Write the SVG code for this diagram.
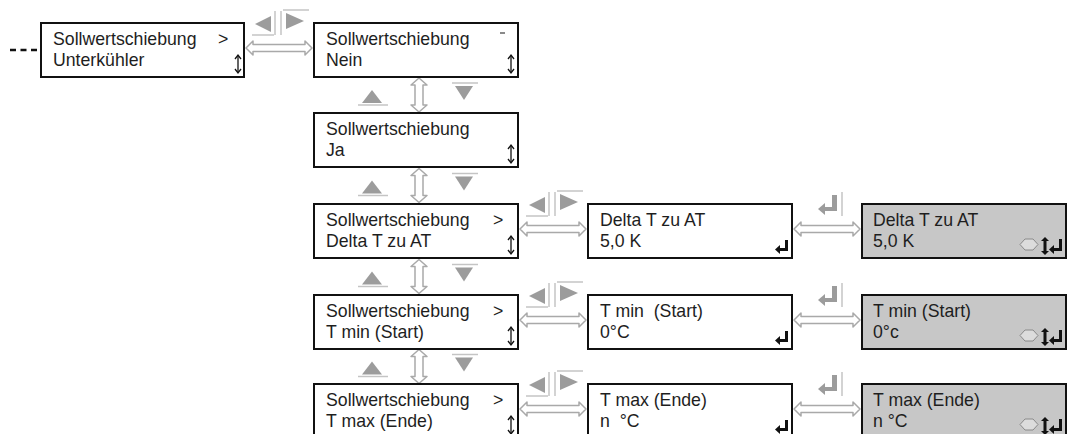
<svg xmlns="http://www.w3.org/2000/svg" width="1070" height="434" viewBox="0 0 1070 434">
<style>
.box{fill:#fff;stroke:#111;stroke-width:2}
.gbox{fill:#c7c7c7;stroke:#111;stroke-width:2}
.t{font-family:"Liberation Sans",Arial,sans-serif;font-size:17.7px;fill:#1e1e1e;white-space:pre}
.arr{fill:#fff;stroke:#a9a9a9;stroke-width:1.5;stroke-linejoin:round}
.key{fill:#9c9c9c}
.keyline{stroke:#c4c4c4;stroke-width:1.5;fill:none}
.blk{fill:#111}
</style>
<defs>
<g id="lr">
<polygon class="key" points="-59,1 -43,-7 -43,9"/>
<line class="keyline" x1="-39" y1="-12" x2="-39" y2="12"/>
<line class="keyline" x1="-33" y1="-12" x2="-33" y2="12"/>
<polygon class="key" points="-28,-10 -28,6 -10,-2"/>
<line class="keyline" x1="-31" y1="-13" x2="-5" y2="-13"/>
<line class="keyline" x1="-62" y1="12" x2="-40" y2="12"/>
</g>
<g id="ud">
<polygon class="key" points="362,8 382,8 372,-5"/>
<line class="keyline" x1="358" y1="10" x2="388" y2="10"/>
<path class="arr" d="M419,-17 L427,-10 L423,-10 L423,10 L427,10 L419,17 L411,10 L415,10 L415,-10 L411,-10 Z"/>
<polygon class="key" points="455,-9 473,-9 464,5"/>
<line class="keyline" x1="452" y1="-12" x2="478" y2="-12"/>
</g>
<g id="ent">
<rect class="key" x="-30" y="-9" width="5" height="16"/>
<rect class="key" x="-38" y="3" width="13" height="4"/>
<polygon class="key" points="-44,5 -37,-1 -37,11"/>
<line class="keyline" x1="-20" y1="-12" x2="-20" y2="12"/>
</g>
<g id="sEnt">
<rect class="blk" x="-7" y="-18" width="3" height="11"/>
<rect class="blk" x="-13" y="-10" width="9" height="3"/>
<polygon class="blk" points="-17,-8.5 -12,-13 -12,-4"/>
</g>
<g id="sUD">
<line x1="-7" y1="33" x2="-7" y2="49" stroke="#111" stroke-width="1.3"/>
<polyline points="-10,36 -7,32 -4,36" fill="none" stroke="#111" stroke-width="1.3"/>
<polyline points="-10,46 -7,50 -4,46" fill="none" stroke="#111" stroke-width="1.3"/>
</g>
<g id="gIcons">
<polygon points="-46,-13.5 -41,-19 -33,-19 -28,-13.5 -33,-8 -41,-8" fill="#dcdcdc" stroke="#8a8a8a" stroke-width="1"/>
<rect class="blk" x="-22.5" y="-18" width="3" height="12"/>
<polygon class="blk" points="-25,-17 -21,-21 -17,-17"/>
<polygon class="blk" points="-25,-7 -21,-3 -17,-7"/>
<rect class="blk" x="-7" y="-19" width="3" height="12"/>
<rect class="blk" x="-13" y="-10" width="9" height="3"/>
<polygon class="blk" points="-17,-8.5 -12,-13 -12,-4"/>
</g>
</defs>

<g id="connectors">
<line x1="10" y1="50" x2="38" y2="50" stroke="#111" stroke-width="2.5" stroke-dasharray="6 4.5"/>
<path class="arr" d="M246,48 L253,41 L253,44.5 L305,44.5 L305,41 L312,48 L305,55 L305,51.5 L253,51.5 L253,55 Z"/>
<use href="#lr" transform="translate(314,23)"/>
<use href="#ud" transform="translate(0,95)"/>
<use href="#ud" transform="translate(0,185.5)"/>
<use href="#ud" transform="translate(0,276.5)"/>
<use href="#ud" transform="translate(0,366.5)"/>
<path class="arr" d="M520,229 L527,222 L527,225.5 L579,225.5 L579,222 L586,229 L579,236 L579,232.5 L527,232.5 L527,236 Z"/>
<path class="arr" d="M794,229 L801,222 L801,225.5 L853,225.5 L853,222 L860,229 L853,236 L853,232.5 L801,232.5 L801,236 Z"/>
<use href="#lr" transform="translate(588,204)"/>
<use href="#ent" transform="translate(862,204)"/>
<path class="arr" d="M520,320 L527,313 L527,316.5 L579,316.5 L579,313 L586,320 L579,327 L579,323.5 L527,323.5 L527,327 Z"/>
<path class="arr" d="M794,320 L801,313 L801,316.5 L853,316.5 L853,313 L860,320 L853,327 L853,323.5 L801,323.5 L801,327 Z"/>
<use href="#lr" transform="translate(588,295)"/>
<use href="#ent" transform="translate(862,295)"/>
<path class="arr" d="M520,409 L527,402 L527,405.5 L579,405.5 L579,402 L586,409 L579,416 L579,412.5 L527,412.5 L527,416 Z"/>
<path class="arr" d="M794,409 L801,402 L801,405.5 L853,405.5 L853,402 L860,409 L853,416 L853,412.5 L801,412.5 L801,416 Z"/>
<use href="#lr" transform="translate(588,384)"/>
<use href="#ent" transform="translate(862,384)"/>
</g>

<g id="n1">
<rect class="box" x="41" y="23" width="203" height="54"/>
<text class="t" x="53" y="45">Sollwertschiebung</text>
<text class="t" x="218" y="45">&gt;</text>
<text class="t" x="53" y="66">Unterkühler</text>
<use href="#sUD" transform="translate(245,23)"/>
</g>
<g id="n2">
<rect class="box" x="314" y="23" width="204" height="54"/>
<text class="t" x="326" y="45">Sollwertschiebung</text>
<text class="t" x="326" y="66">Nein</text>
<rect x="500" y="32" width="5" height="2" fill="#8a8a8a"/>
<use href="#sUD" transform="translate(518,23)"/>
</g>
<g id="n3">
<rect class="box" x="314" y="113" width="204" height="54"/>
<text class="t" x="326" y="135">Sollwertschiebung</text>
<text class="t" x="326" y="156">Ja</text>
<use href="#sUD" transform="translate(518,113)"/>
</g>
<g id="n4">
<rect class="box" x="314" y="204" width="204" height="54"/>
<text class="t" x="326" y="226">Sollwertschiebung</text>
<text class="t" x="493" y="226">&gt;</text>
<text class="t" x="326" y="247">Delta T zu AT</text>
<use href="#sUD" transform="translate(518,204)"/>
</g>
<g id="n5">
<rect class="box" x="588" y="204" width="204" height="54"/>
<text class="t" x="600" y="226">Delta T zu AT</text>
<text class="t" x="600" y="247">5,0 K</text>
<use href="#sEnt" transform="translate(792,258)"/>
</g>
<g id="n6">
<rect class="gbox" x="862" y="204" width="204" height="54"/>
<text class="t" x="873" y="226">Delta T zu AT</text>
<text class="t" x="873" y="247">5,0 K</text>
<use href="#gIcons" transform="translate(1066,258)"/>
</g>
<g id="n7">
<rect class="box" x="314" y="295" width="204" height="54"/>
<text class="t" x="326" y="317">Sollwertschiebung</text>
<text class="t" x="493" y="317">&gt;</text>
<text class="t" x="326" y="338">T min (Start)</text>
<use href="#sUD" transform="translate(518,295)"/>
</g>
<g id="n8">
<rect class="box" x="588" y="295" width="204" height="54"/>
<text class="t" x="600" y="317">T min  (Start)</text>
<text class="t" x="600" y="338">0°C</text>
<use href="#sEnt" transform="translate(792,349)"/>
</g>
<g id="n9">
<rect class="gbox" x="862" y="295" width="204" height="54"/>
<text class="t" x="873" y="317">T min (Start)</text>
<text class="t" x="873" y="338">0°c</text>
<use href="#gIcons" transform="translate(1066,349)"/>
</g>
<g id="n10">
<rect class="box" x="314" y="384" width="204" height="54"/>
<text class="t" x="326" y="406">Sollwertschiebung</text>
<text class="t" x="493" y="406">&gt;</text>
<text class="t" x="326" y="427">T max (Ende)</text>
<use href="#sUD" transform="translate(518,384)"/>
</g>
<g id="n11">
<rect class="box" x="588" y="384" width="204" height="54"/>
<text class="t" x="600" y="406">T max (Ende)</text>
<text class="t" x="600" y="427">n  °C</text>
<use href="#sEnt" transform="translate(792,438)"/>
</g>
<g id="n12">
<rect class="gbox" x="862" y="384" width="204" height="54"/>
<text class="t" x="873" y="406">T max (Ende)</text>
<text class="t" x="873" y="427">n °C</text>
<use href="#gIcons" transform="translate(1066,438)"/>
</g>
</svg>
